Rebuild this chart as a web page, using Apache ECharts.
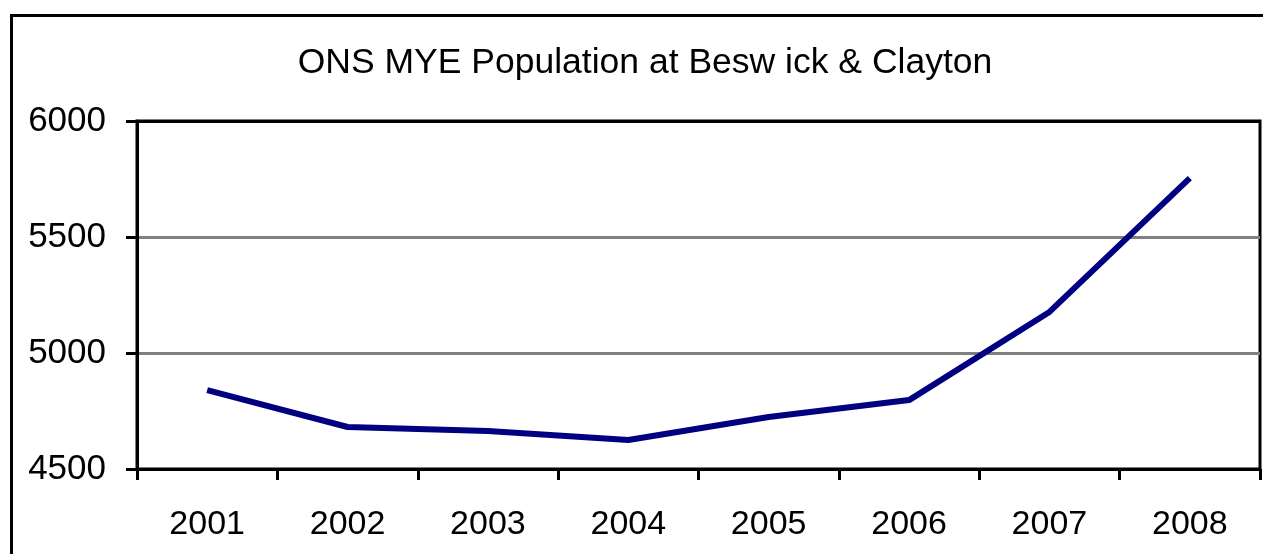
<!DOCTYPE html>
<html><head><meta charset="utf-8">
<script src="https://cdn.jsdelivr.net/npm/echarts@6/dist/echarts.min.js"></script>
<style>html,body{margin:0;padding:0;background:#fff}#c{width:1263px;height:554px}</style>
</head><body><div id="c"></div>
<script>
const titleText = 'ONS MYE Population at Besw ick & Clayton';
const years = ['2001','2002','2003','2004','2005','2006','2007','2008'];
const population = [4840, 4681, 4664, 4625, 4724, 4797, 5177, 5754];
const yTicks = [4500, 5000, 5500, 6000];

const chart = echarts.init(document.getElementById('c'), null, {renderer:'canvas'});
const font = 'Liberation Sans, Arial, sans-serif';
chart.setOption({
  animation:false,
  backgroundColor:'#fff',
  title:{text:titleText, left:640, top:40, textAlign:'center',
    textStyle:{fontFamily:font, fontSize:35.5, fontWeight:'normal', color:'#000'}},
  graphic:[{type:'rect', shape:{x:11.5, y:15.5, width:1300, height:600},
    style:{fill:'none', stroke:'#000', lineWidth:3}, z:100}],
  grid:{left:137, right:3, top:121, bottom:85, show:true, borderColor:'#000', borderWidth:3, backgroundColor:'#fff'},
  xAxis:{type:'category', data:years, boundaryGap:true,
    axisLine:{lineStyle:{color:'#000', width:3}},
    axisTick:{show:true, length:11, lineStyle:{color:'#000', width:3}},
    axisLabel:{fontFamily:font, fontSize:34, color:'#000', margin:39}},
  yAxis:{type:'value', min:yTicks[0], max:yTicks[yTicks.length-1], interval:500,
    axisLine:{show:true, lineStyle:{color:'#000', width:3}},
    axisTick:{show:true, length:11, lineStyle:{color:'#000', width:3}},
    axisLabel:{fontFamily:font, fontSize:35, color:'#000', margin:31, formatter:v=>String(v)},
    splitLine:{show:true, lineStyle:{color:['#808080','#808080','#808080','#000'], width:3}}},
  series:[{type:'line', data:population, symbol:'none',
    lineStyle:{color:'#000080', width:6}}]
});
</script></body></html>
